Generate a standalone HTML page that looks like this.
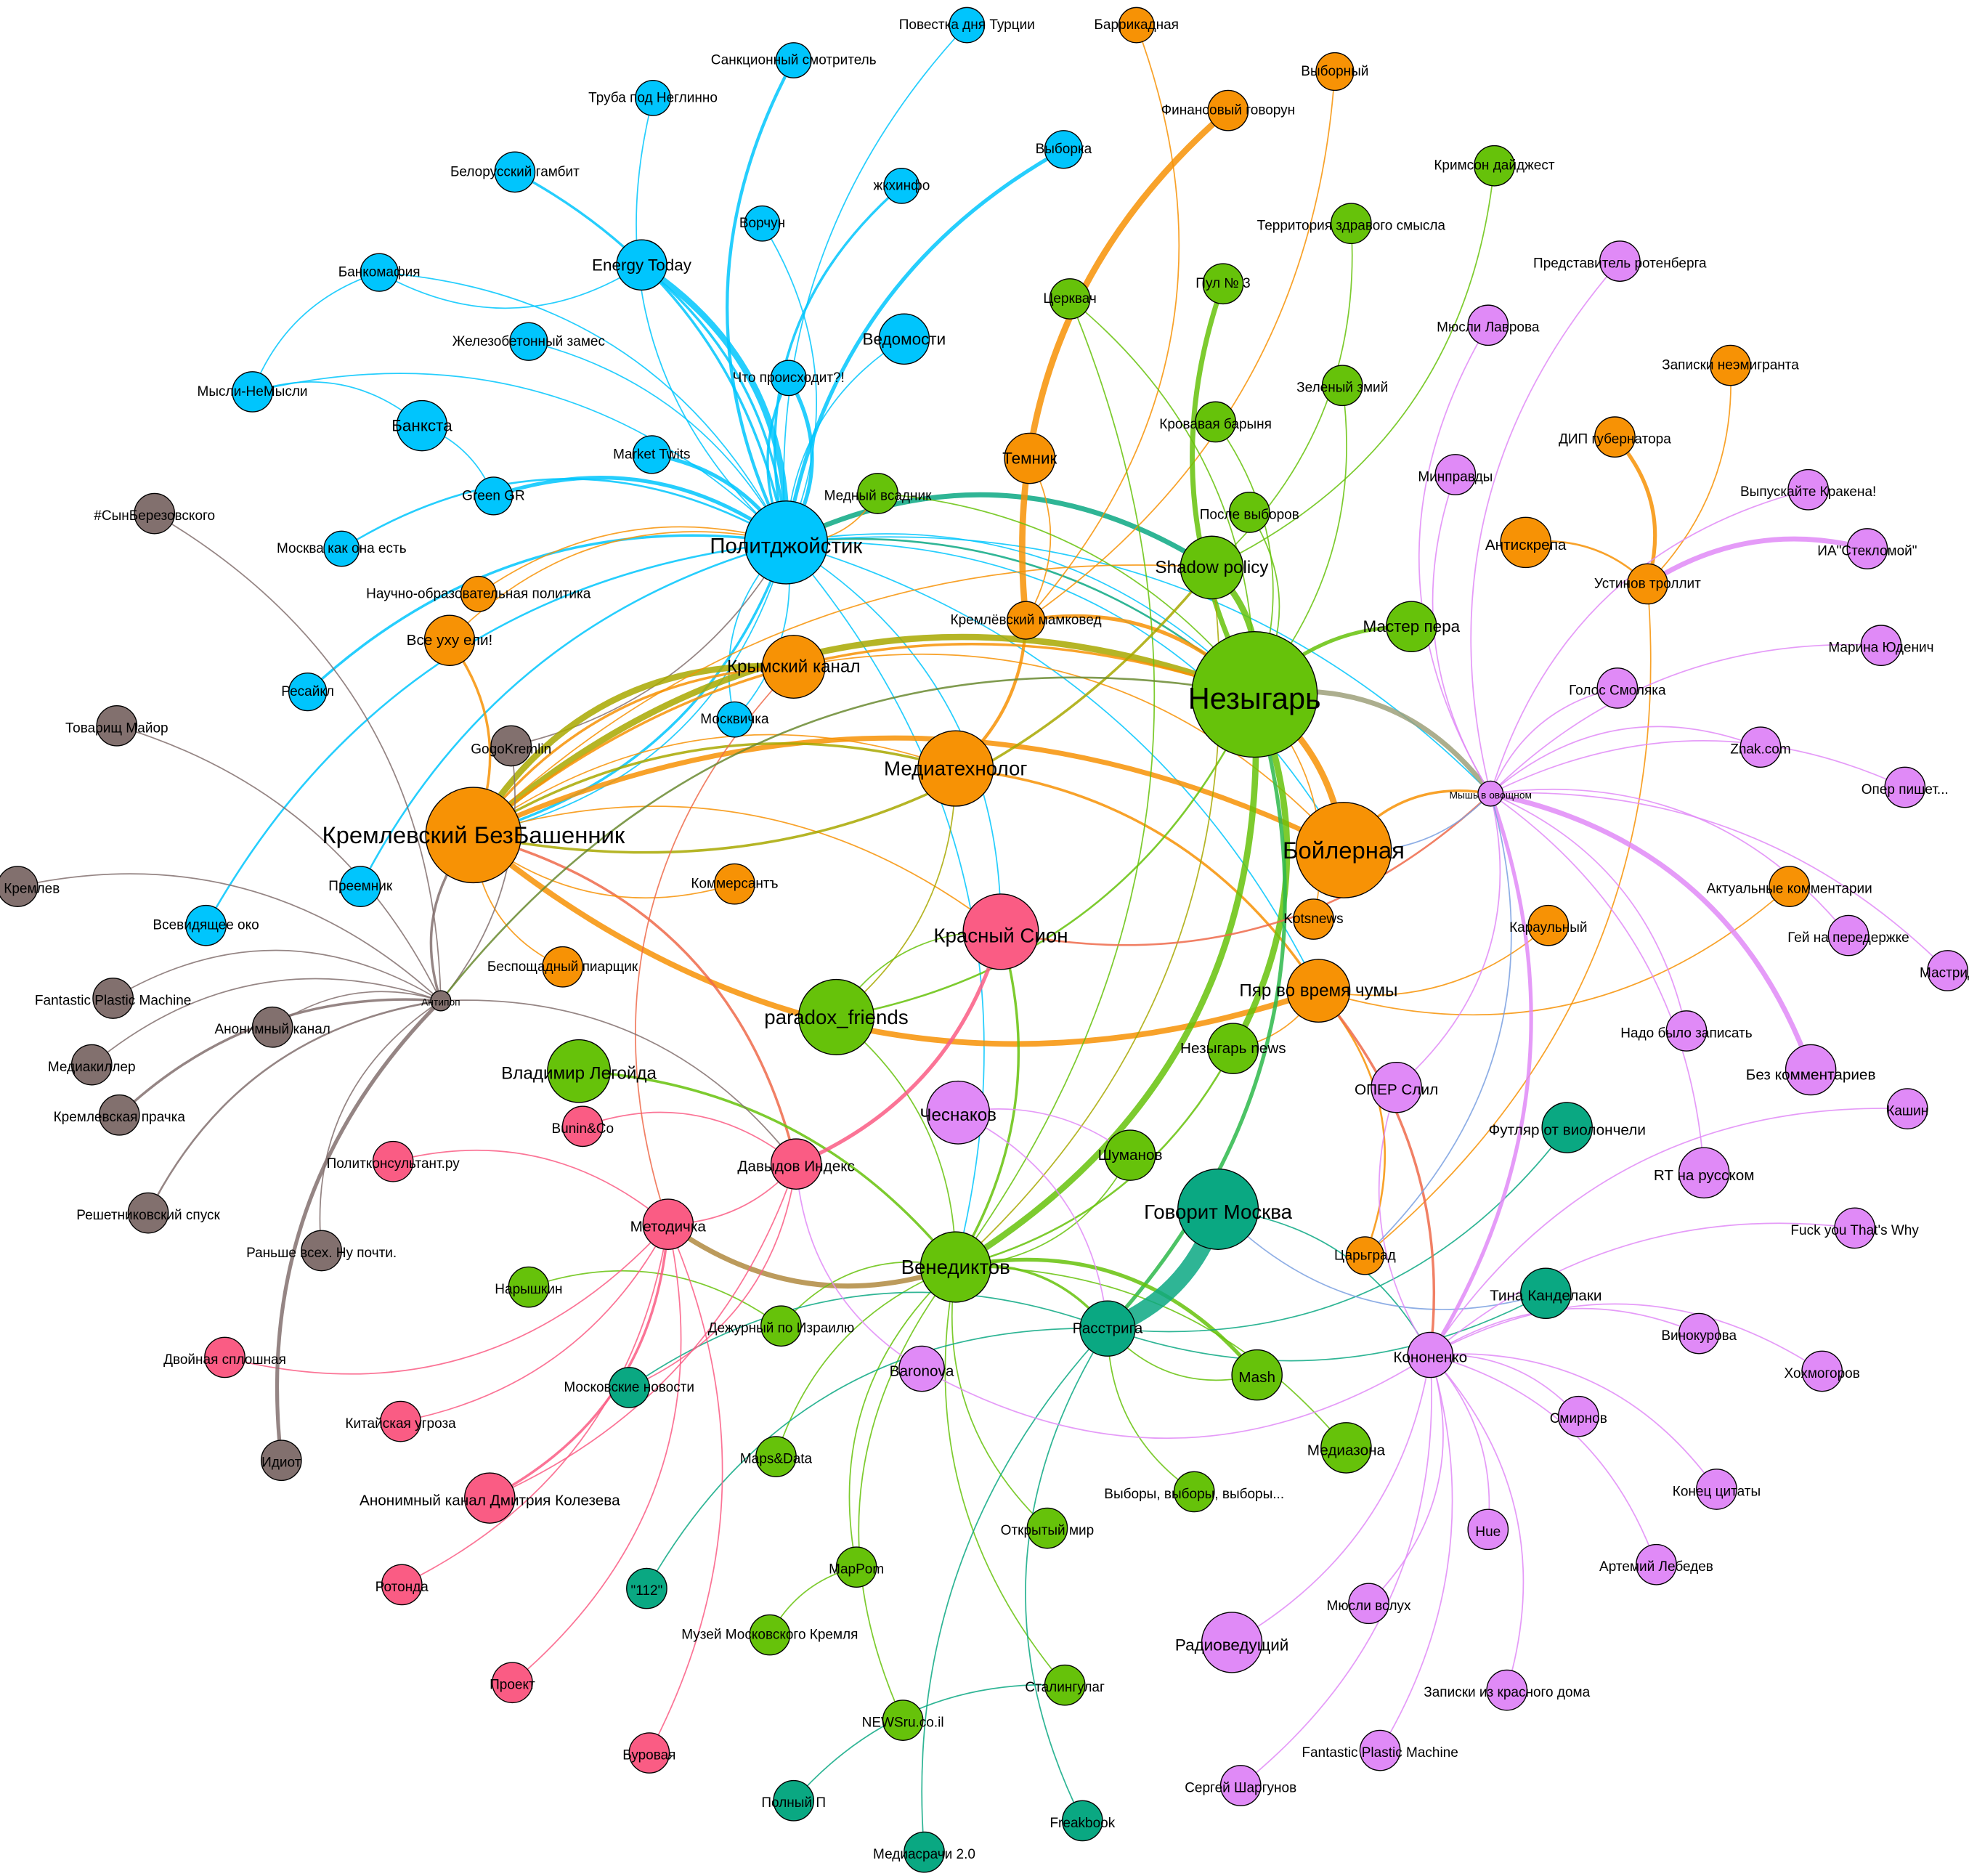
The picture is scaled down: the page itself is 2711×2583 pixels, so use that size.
<!DOCTYPE html>
<html><head><meta charset="utf-8">
<style>
html,body{margin:0;padding:0;background:#fff;}
svg{display:block;}
text{font-family:"Liberation Sans","DejaVu Sans",sans-serif;fill:#000;text-anchor:middle;dominant-baseline:central;}
circle{stroke:#000;stroke-width:0.8;}
.b{fill:#00c5fd}.o{fill:#f79205}.g{fill:#66c20a}.p{fill:#fa5c84}.v{fill:#e08af7}.t{fill:#0aa882}.r{fill:#82706e}
</style></head>
<body>
<svg id="s" width="2711" height="2583" viewBox="0 0 1568 1494" xmlns="http://www.w3.org/2000/svg">
<g id="edges" fill="none" stroke-linecap="round"></g>
<g id="nodes" font-size="11">
<circle id="turk" class="b" cx="770" cy="20" r="14"/><text x="770" y="20">Повестка дня Турции</text>
<circle id="sanc" class="b" cx="632" cy="48" r="14"/><text x="632" y="48">Санкционный смотритель</text>
<circle id="truba" class="b" cx="520" cy="78" r="14"/><text x="520" y="78">Труба под Неглинно</text>
<circle id="belor" class="b" cx="410" cy="137" r="16"/><text x="410" y="137">Белорусский гамбит</text>
<circle id="energy" class="b" cx="511" cy="211" r="20"/><text x="511" y="211" font-size="13">Energy Today</text>
<circle id="vorch" class="b" cx="607" cy="178" r="14"/><text x="607" y="178">Ворчун</text>
<circle id="zhkh" class="b" cx="718" cy="148" r="14"/><text x="718" y="148">жкхинфо</text>
<circle id="vyborka" class="b" cx="847" cy="119" r="15"/><text x="847" y="119">Выборка</text>
<circle id="bankomaf" class="b" cx="302" cy="217" r="15"/><text x="302" y="217">Банкомафия</text>
<circle id="zhel" class="b" cx="421" cy="272" r="15"/><text x="421" y="272">Железобетонный замес</text>
<circle id="ved" class="b" cx="720" cy="270" r="20"/><text x="720" y="270" font-size="13">Ведомости</text>
<circle id="chto" class="b" cx="628" cy="301" r="14"/><text x="628" y="301">Что происходит?!</text>
<circle id="mysli" class="b" cx="201" cy="312" r="16"/><text x="201" y="312">Мысли-НеМысли</text>
<circle id="banksta" class="b" cx="336" cy="339" r="20"/><text x="336" y="339" font-size="13">Банкста</text>
<circle id="market" class="b" cx="519" cy="362" r="15"/><text x="519" y="362">Market Twits</text>
<circle id="green" class="b" cx="393" cy="395" r="15"/><text x="393" y="395">Green GR</text>
<circle id="moskva" class="b" cx="272" cy="437" r="14"/><text x="272" y="437">Москва как она есть</text>
<circle id="resaikl" class="b" cx="245" cy="551" r="15"/><text x="245" y="551">Ресайкл</text>
<circle id="moskvichka" class="b" cx="585" cy="573" r="14"/><text x="585" y="573">Москвичка</text>
<circle id="preemnik" class="b" cx="287" cy="706" r="16"/><text x="287" y="706">Преемник</text>
<circle id="vsevid" class="b" cx="164" cy="737" r="16"/><text x="164" y="737">Всевидящее око</text>
<circle id="barrik" class="o" cx="905" cy="20" r="14"/><text x="905" y="20">Баррикадная</text>
<circle id="vybornyi" class="o" cx="1063" cy="57" r="15"/><text x="1063" y="57">Выборный</text>
<circle id="fingov" class="o" cx="978" cy="88" r="16"/><text x="978" y="88">Финансовый говорун</text>
<circle id="temnik" class="o" cx="820" cy="365" r="20"/><text x="820" y="365" font-size="13">Темник</text>
<circle id="nauch" class="o" cx="381" cy="473" r="14"/><text x="381" y="473">Научно-образовательная политика</text>
<circle id="vseuhu" class="o" cx="358" cy="510" r="20"/><text x="358" y="510" font-size="12">Все уху ели!</text>
<circle id="mamk" class="o" cx="817" cy="494" r="15"/><text x="817" y="494">Кремлёвский мамковед</text>
<circle id="krym" class="o" cx="632" cy="531" r="25"/><text x="632" y="531" font-size="14">Крымский канал</text>
<circle id="mediat" class="o" cx="761" cy="612" r="30"/><text x="761" y="612" font-size="16">Медиатехнолог</text>
<circle id="kbb" class="o" cx="377" cy="665" r="38"/><text x="377" y="665" font-size="19">Кремлевский БезБашенник</text>
<circle id="komm" class="o" cx="585" cy="704" r="16"/><text x="585" y="704">Коммерсантъ</text>
<circle id="boil" class="o" cx="1070" cy="677" r="38"/><text x="1070" y="677" font-size="19">Бойлерная</text>
<circle id="bespos" class="o" cx="448" cy="770" r="16"/><text x="448" y="770">Беспощадный пиарщик</text>
<circle id="kots" class="o" cx="1046" cy="732" r="16"/><text x="1046" y="732">Kotsnews</text>
<circle id="pyar" class="o" cx="1050" cy="789" r="25"/><text x="1050" y="789" font-size="14">Пяр во время чумы</text>
<circle id="tsar" class="o" cx="1087" cy="1000" r="15"/><text x="1087" y="1000">Царьград</text>
<circle id="antiskr" class="o" cx="1215" cy="432" r="20"/><text x="1215" y="434" font-size="12">Антискрепа</text>
<circle id="ustinov" class="o" cx="1312" cy="465" r="16"/><text x="1312" y="465">Устинов троллит</text>
<circle id="dip" class="o" cx="1286" cy="348" r="16"/><text x="1286" y="350">ДИП губернатора</text>
<circle id="zapne" class="o" cx="1378" cy="291" r="16"/><text x="1378" y="291">Записки неэмигранта</text>
<circle id="aktual" class="o" cx="1425" cy="706" r="16"/><text x="1425" y="708">Актуальные комментарии</text>
<circle id="karaul" class="o" cx="1233" cy="737" r="16"/><text x="1233" y="739">Караульный</text>
<circle id="krimson" class="g" cx="1190" cy="132" r="16"/><text x="1190" y="132">Кримсон дайджест</text>
<circle id="territ" class="g" cx="1076" cy="178" r="16"/><text x="1076" y="180">Территория здравого смысла</text>
<circle id="pul" class="g" cx="974" cy="226" r="16"/><text x="974" y="226">Пул № 3</text>
<circle id="tserk" class="g" cx="852" cy="238" r="16"/><text x="852" y="238">Церквач</text>
<circle id="zmiy" class="g" cx="1069" cy="307" r="16"/><text x="1069" y="309">Зеленый змий</text>
<circle id="krov" class="g" cx="968" cy="336" r="16"/><text x="968" y="338">Кровавая барыня</text>
<circle id="posle" class="g" cx="995" cy="408" r="16"/><text x="995" y="410">После выборов</text>
<circle id="medny" class="g" cx="699" cy="393" r="16"/><text x="699" y="395">Медный всадник</text>
<circle id="shadow" class="g" cx="965" cy="452" r="25"/><text x="965" y="452" font-size="14">Shadow policy</text>
<circle id="master" class="g" cx="1124" cy="499" r="20"/><text x="1124" y="499" font-size="13">Мастер пера</text>
<circle id="nez" class="g" cx="999" cy="553" r="50"/><text x="999" y="556" font-size="24">Незыгарь</text>
<circle id="paradox" class="g" cx="666" cy="810" r="30"/><text x="666" y="810" font-size="16">paradox_friends</text>
<circle id="neznews" class="g" cx="982" cy="835" r="20"/><text x="982" y="835" font-size="12">Незыгарь news</text>
<circle id="legoyda" class="g" cx="461" cy="853" r="25"/><text x="461" y="855" font-size="14">Владимир Легойда</text>
<circle id="shum" class="g" cx="900" cy="920" r="20"/><text x="900" y="920" font-size="12">Шуманов</text>
<circle id="vened" class="g" cx="761" cy="1009" r="28"/><text x="761" y="1009" font-size="16">Венедиктов</text>
<circle id="naryshkin" class="g" cx="421" cy="1025" r="16"/><text x="421" y="1027">Нарышкин</text>
<circle id="dezh" class="g" cx="622" cy="1056" r="16"/><text x="622" y="1058">Дежурный по Израилю</text>
<circle id="mash" class="g" cx="1001" cy="1095" r="20"/><text x="1001" y="1097" font-size="12">Mash</text>
<circle id="mediaz" class="g" cx="1072" cy="1153" r="20"/><text x="1072" y="1155" font-size="12">Медиазона</text>
<circle id="maps" class="g" cx="618" cy="1160" r="16"/><text x="618" y="1162">Maps&amp;Data</text>
<circle id="vybory" class="g" cx="951" cy="1188" r="16"/><text x="951" y="1190">Выборы, выборы, выборы...</text>
<circle id="otkr" class="g" cx="834" cy="1217" r="16"/><text x="834" y="1219">Открытый мир</text>
<circle id="mappom" class="g" cx="682" cy="1248" r="16"/><text x="682" y="1250">MapPom</text>
<circle id="muzey" class="g" cx="613" cy="1302" r="16"/><text x="613" y="1302">Музей Московского Кремля</text>
<circle id="stalin" class="g" cx="848" cy="1342" r="16"/><text x="848" y="1344">Сталингулаг</text>
<circle id="newsru" class="g" cx="719" cy="1370" r="16"/><text x="719" y="1372">NEWSru.co.il</text>
<circle id="govor" class="t" cx="970" cy="963" r="32"/><text x="970" y="965" font-size="16">Говорит Москва</text>
<circle id="futl" class="t" cx="1248" cy="898" r="20"/><text x="1248" y="900" font-size="12">Футляр от виолончели</text>
<circle id="rasstr" class="t" cx="882" cy="1058" r="22"/><text x="882" y="1058" font-size="12">Расстрига</text>
<circle id="tina" class="t" cx="1231" cy="1030" r="20"/><text x="1231" y="1032" font-size="12">Тина Канделаки</text>
<circle id="mosnov" class="t" cx="501" cy="1105" r="16"/><text x="501" y="1105">Московские новости</text>
<circle id="n112" class="t" cx="515" cy="1265" r="16"/><text x="515" y="1267">"112"</text>
<circle id="polnyi" class="t" cx="632" cy="1434" r="16"/><text x="632" y="1436">Полный П</text>
<circle id="freak" class="t" cx="862" cy="1450" r="16"/><text x="862" y="1452">Freakbook</text>
<circle id="mediasr" class="t" cx="736" cy="1475" r="16"/><text x="736" y="1477">Медиасрачи 2.0</text>
<circle id="sion" class="p" cx="797" cy="742" r="30"/><text x="797" y="745" font-size="16">Красный Сион</text>
<circle id="bunin" class="p" cx="464" cy="897" r="16"/><text x="464" y="899">Bunin&amp;Co</text>
<circle id="davyd" class="p" cx="634" cy="927" r="20"/><text x="634" y="929" font-size="12">Давыдов Индекс</text>
<circle id="polit" class="p" cx="313" cy="925" r="16"/><text x="313" y="927">Политконсультант.ру</text>
<circle id="metod" class="p" cx="532" cy="975" r="20"/><text x="532" y="977" font-size="12">Методичка</text>
<circle id="dvoin" class="p" cx="179" cy="1081" r="16"/><text x="179" y="1083">Двойная сплошная</text>
<circle id="kitay" class="p" cx="319" cy="1132" r="16"/><text x="319" y="1134">Китайская угроза</text>
<circle id="kolez" class="p" cx="390" cy="1193" r="20"/><text x="390" y="1195" font-size="12">Анонимный канал Дмитрия Колезева</text>
<circle id="rotonda" class="p" cx="320" cy="1262" r="16"/><text x="320" y="1264">Ротонда</text>
<circle id="proekt" class="p" cx="408" cy="1340" r="16"/><text x="408" y="1342">Проект</text>
<circle id="burov" class="p" cx="517" cy="1396" r="16"/><text x="517" y="1398">Буровая</text>
<circle id="rot" class="v" cx="1290" cy="208" r="16"/><text x="1290" y="210">Представитель ротенберга</text>
<circle id="lavr" class="v" cx="1185" cy="259" r="16"/><text x="1185" y="261">Мюсли Лаврова</text>
<circle id="minpr" class="v" cx="1159" cy="378" r="16"/><text x="1159" y="380">Минправды</text>
<circle id="kraken" class="v" cx="1440" cy="390" r="16"/><text x="1440" y="392">Выпускайте Кракена!</text>
<circle id="steklo" class="v" cx="1487" cy="437" r="16"/><text x="1487" y="439">ИА"Стекломой"</text>
<circle id="yudenich" class="v" cx="1498" cy="514" r="16"/><text x="1498" y="516">Марина Юденич</text>
<circle id="smolyak" class="v" cx="1288" cy="548" r="16"/><text x="1288" y="550">Голос Смоляка</text>
<circle id="znak" class="v" cx="1402" cy="595" r="16"/><text x="1402" y="597">Znak.com</text>
<circle id="operp" class="v" cx="1517" cy="627" r="16"/><text x="1517" y="629">Опер пишет...</text>
<circle id="mysh" class="v" cx="1187" cy="632" r="10"/><text x="1187" y="633" font-size="8">Мышь в овощном</text>
<circle id="gey" class="v" cx="1472" cy="745" r="16"/><text x="1472" y="747">Гей на передержке</text>
<circle id="mastrid" class="v" cx="1551" cy="773" r="16"/><text x="1551" y="775">Мастрид</text>
<circle id="nado" class="v" cx="1343" cy="821" r="16"/><text x="1343" y="823">Надо было записать</text>
<circle id="bezkom" class="v" cx="1442" cy="852" r="20"/><text x="1442" y="856" font-size="12">Без комментариев</text>
<circle id="opersl" class="v" cx="1112" cy="866" r="20"/><text x="1112" y="868" font-size="12">ОПЕР Слил</text>
<circle id="chesn" class="v" cx="763" cy="886" r="25"/><text x="763" y="888" font-size="14">Чеснаков</text>
<circle id="kashin" class="v" cx="1519" cy="883" r="16"/><text x="1519" y="885">Кашин</text>
<circle id="rt" class="v" cx="1357" cy="934" r="20"/><text x="1357" y="936" font-size="12">RT на русском</text>
<circle id="fuck" class="v" cx="1477" cy="978" r="16"/><text x="1477" y="980">Fuck you That's Why</text>
<circle id="kon" class="v" cx="1139" cy="1079" r="18"/><text x="1139" y="1081" font-size="12">Кононенко</text>
<circle id="vinok" class="v" cx="1353" cy="1062" r="16"/><text x="1353" y="1064">Винокурова</text>
<circle id="hohm" class="v" cx="1451" cy="1092" r="16"/><text x="1451" y="1094">Хохмогоров</text>
<circle id="smirn" class="v" cx="1257" cy="1128" r="16"/><text x="1257" y="1130">Смирнов</text>
<circle id="baron" class="v" cx="734" cy="1090" r="18"/><text x="734" y="1092" font-size="12">Baronova</text>
<circle id="konets" class="v" cx="1367" cy="1186" r="16"/><text x="1367" y="1188">Конец цитаты</text>
<circle id="hue" class="v" cx="1185" cy="1218" r="16"/><text x="1185" y="1220">Hue</text>
<circle id="lebed" class="v" cx="1319" cy="1246" r="16"/><text x="1319" y="1248">Артемий Лебедев</text>
<circle id="musvs" class="v" cx="1090" cy="1277" r="16"/><text x="1090" y="1279">Мюсли вслух</text>
<circle id="radio" class="v" cx="981" cy="1308" r="24"/><text x="981" y="1310" font-size="13">Радиоведущий</text>
<circle id="krasdom" class="v" cx="1200" cy="1346" r="16"/><text x="1200" y="1348">Записки из красного дома</text>
<circle id="fpm2" class="v" cx="1099" cy="1394" r="16"/><text x="1099" y="1396">Fantastic Plastic Machine</text>
<circle id="shargun" class="v" cx="988" cy="1422" r="16"/><text x="988" y="1424">Сергей Шаргунов</text>
<circle id="syn" class="r" cx="123" cy="409" r="16"/><text x="123" y="411">#СынБерезовского</text>
<circle id="tovar" class="r" cx="93" cy="578" r="16"/><text x="93" y="580">Товарищ Майор</text>
<circle id="gogo" class="r" cx="407" cy="594" r="16"/><text x="407" y="597">GogoKremlin</text>
<circle id="kreml" class="r" cx="14" cy="706" r="16"/><text x="14" y="708">Вор Кремлев</text>
<circle id="antipop" class="r" cx="351" cy="797" r="8"/><text x="351" y="798" font-size="8">Антипоп</text>
<circle id="fpm1" class="r" cx="90" cy="795" r="16"/><text x="90" y="797">Fantastic Plastic Machine</text>
<circle id="anon" class="r" cx="217" cy="818" r="16"/><text x="217" y="820">Анонимный канал</text>
<circle id="killer" class="r" cx="73" cy="848" r="16"/><text x="73" y="850">Медиакиллер</text>
<circle id="prachka" class="r" cx="95" cy="888" r="16"/><text x="95" y="890">Кремлевская прачка</text>
<circle id="reshet" class="r" cx="118" cy="966" r="16"/><text x="118" y="968">Решетниковский спуск</text>
<circle id="ranshe" class="r" cx="256" cy="996" r="16"/><text x="256" y="998">Раньше всех. Ну почти.</text>
<circle id="idiot" class="r" cx="224" cy="1163" r="16"/><text x="224" y="1165">Идиот</text>
<circle class="b" cx="626" cy="432" r="33"/><text x="626" y="435" font-size="17">Политджойстик</text>
</g>
</svg>
<script>
var C={b:"#00c5fd",o:"#f79205",g:"#66c20a",p:"#fa5c84",v:"#e08af7",t:"#0aa882",r:"#82706e"};
var E=[
["pj","turk","b",1],["pj","sanc","b",2.5],["pj","truba","b",1],["belor","pj","b",2],["energy","pj","b",5],["energy","pj","b",2],["vorch","pj","b",1],["pj","zhkh","b",2],["pj","vyborka","b",3],["bankomaf","pj","b",1],["zhel","pj","b",1],["pj","ved","b",1],["chto","pj","b",3],["pj","chto","b",2],["mysli","pj","b",1],["market","pj","b",3],["green","pj","b",3],["moskva","pj","b",1.5],["resaikl","pj","b",2],["moskvichka","pj","b",1],["preemnik","pj","b",1.5],["vsevid","pj","b",1.5],["energy","bankomaf","b",1],["mysli","bankomaf","b",1],["mysli","banksta","b",1],["banksta","green","b",1],["pj","kbb","b",2],["pj","kbb","b",1],["pj","moskvichka","b",1],
["pj","shadow","t",4],["pj","nez","t",1.5],["pj","nez","b",1],["pj","boil","b",1],["pj","mysh","b",1],["pj","sion","b",1],["pj","pyar","b",1],["pj","vened","b",1],
["medny","pj","o",1],["nauch","pj","o",1],["vseuhu","pj","o",1],["pj","gogo","r",1],
["mamk","fingov","o",5],["barrik","mamk","o",1],["vybornyi","mamk","o",1],["temnik","mamk","o",1],["mamk","mediat","o",2.5],["mamk","nez","o",3],["kbb","nez","y",5],["kbb","boil","o",4],["pyar","kbb","o",4.5],["kbb","mediat","y",2],["kbb","mediat","o",1],["kbb","krym","y",5],["kbb","krym","o",2],["vseuhu","kbb","o",2],["kbb","shadow","o",1],["kbb","sion","o",1],["kbb","davyd","pr",2],["mediat","pyar","o",2],["krym","boil","o",1],["nez","boil","o",5],["nez","kots","o",1],["boil","mysh","o",2],["antiskr","ustinov","o",1.5],["dip","ustinov","o",3],["zapne","ustinov","o",1],["ustinov","tsar","o",1],["pyar","tsar","o",1.5],["karaul","pyar","o",1],["aktual","pyar","o",1],["pyar","neznews","o",1],["komm","kbb","o",1],["bespos","kbb","o",1],["mediat","paradox","y",1],["kbb","nez","o",2],
["nez","pul","g",4],["shadow","nez","g",5],["nez","vened","g",5],["nez","neznews","g",5],["nez","rasstr","dg",3],["nez","master","g",3],["nez","paradox","g",1.5],["nez","mysh","gy",4],["territ","shadow","g",1],["krimson","shadow","g",1],["zmiy","nez","g",1],["krov","nez","g",1],["posle","nez","g",1],["tserk","nez","g",1],["tserk","vened","g",1],["medny","nez","g",1],["shadow","vened","y",1],["shadow","kbb","y",2],["paradox","vened","g",1],["paradox","sion","g",1],["sion","vened","g",2],["vened","metod","gb",4],["vened","mash","g",3],["vened","mediaz","g",1],["vened","rasstr","g",2],["legoyda","vened","g",2],["naryshkin","dezh","g",1],["dezh","vened","g",1],["maps","vened","g",1],["mappom","vened","g",1],["muzey","mappom","g",1],["otkr","vened","g",1],["newsru","vened","g",1],["stalin","vened","g",1],["shum","vened","g",1],["neznews","vened","g",1.5],["vybory","rasstr","g",1],["mash","rasstr","g",1],
["govor","rasstr","t",14],["futl","rasstr","t",1],["tina","rasstr","t",1],["mosnov","rasstr","t",1],["n112","rasstr","t",1],["polnyi","stalin","t",1],["freak","rasstr","t",1],["mediasr","rasstr","t",1],["govor","kon","t",1],["tina","govor","bl",1],
["sion","davyd","p",3],["bunin","davyd","p",1],["davyd","metod","p",1],["polit","metod","p",1],["metod","dvoin","p",1],["metod","kitay","p",1],["metod","kolez","p",2],["davyd","kolez","p",1],["metod","rotonda","p",1],["metod","proekt","p",1],["metod","burov","p",1],["davyd","mosnov","p",1],["pyar","kon","pr",2],["mysh","sion","pr",1.5],["metod","krym","pr",1],
["mysh","kon","v",3],["mysh","bezkom","v",4],["ustinov","steklo","v",4],["mysh","rot","v",1],["mysh","lavr","v",1],["mysh","minpr","v",1],["mysh","kraken","v",1],["mysh","yudenich","v",1],["mysh","smolyak","v",1],["mysh","znak","v",1],["mysh","operp","v",1],["mysh","gey","v",1],["mysh","mastrid","v",1],["mysh","nado","v",1],["mysh","opersl","v",1],["mysh","rt","v",1],["kon","kashin","v",1],["kon","fuck","v",1],["kon","vinok","v",1],["kon","hohm","v",1],["kon","smirn","v",1],["kon","konets","v",1],["kon","hue","v",1],["kon","lebed","v",1],["kon","musvs","v",1],["kon","radio","v",1],["kon","krasdom","v",1],["kon","fpm2","v",1],["kon","shargun","v",1],["kon","baron","v",1],["kon","opersl","v",1],["chesn","rasstr","v",1],["chesn","shum","v",1],["baron","davyd","v",1],["mysh","tsar","bl",1],["mysh","boil","bl",1],
["syn","antipop","r",1],["tovar","antipop","r",1],["kreml","antipop","r",1],["fpm1","antipop","r",1],["anon","antipop","r",1],["killer","antipop","r",1],["prachka","antipop","r",2],["reshet","antipop","r",1.5],["ranshe","antipop","r",1],["idiot","antipop","r",3],["antipop","kbb","r",2],["gogo","antipop","r",1],["antipop","davyd","r",1],["antipop","nez","dg2",1.5]
];
var X={y:"#a8a800",pr:"#ee6a4a",dg:"#2db84a",gy:"#9ea07a",gb:"#b08a40",bl:"#7aa0e0",dg2:"#6a8a30"};
var g=document.getElementById("edges");
function P(id){if(id=="pj")return [626,432];var c=document.getElementById(id);return [+c.getAttribute("cx"),+c.getAttribute("cy")];}
var s="";
E.forEach(function(e,i){var a=P(e[0]),b=P(e[1]);var dx=b[0]-a[0],dy=b[1]-a[1];var k=0.22+((i*7)%5)*0.02;
var mx=(a[0]+b[0])/2+dy*k,my=(a[1]+b[1])/2-dx*k;var col=C[e[2]]||X[e[2]];
s+='<path d="M'+a[0]+','+a[1]+' Q'+mx.toFixed(1)+','+my.toFixed(1)+' '+b[0]+','+b[1]+'" stroke="'+col+'" stroke-width="'+e[3]+'" opacity="0.85"/>';});
g.innerHTML=s;
</script>
</body></html>
